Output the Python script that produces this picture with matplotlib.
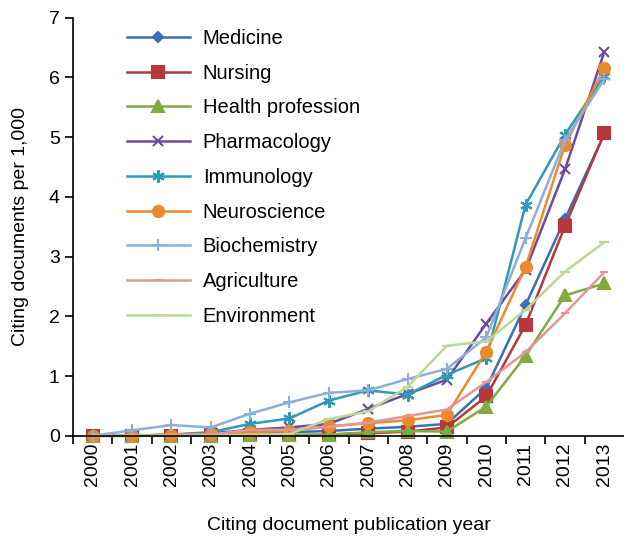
import matplotlib
matplotlib.use("Agg")
from matplotlib import pyplot as plt
from matplotlib.ticker import FixedLocator

plt.rcParams['font.family'] = ['Liberation Sans', 'DejaVu Sans']

years = [str(y) for y in range(2000, 2014)]

medicine = [0, 0, 0.01, 0.02, 0.05, 0.06, 0.08, 0.12, 0.15, 0.20, 0.80, 2.19, 3.63, 5.05]
nursing = [0, 0, 0, 0.01, 0.01, 0.01, 0.02, 0.04, 0.07, 0.14, 0.66, 1.86, 3.51, 5.07]
health = [0, 0, 0, 0, 0.01, 0.01, 0.02, 0.06, 0.08, 0.07, 0.49, 1.34, 2.35, 2.55]
pharmacology = [0, 0, 0.02, 0.04, 0.10, 0.14, 0.20, 0.45, 0.70, 0.94, 1.88, 2.78, 4.46, 6.43]
immunology = [0, 0, 0.02, 0.06, 0.20, 0.29, 0.59, 0.76, 0.69, 1.02, 1.30, 3.87, 5.04, 6.03]
neuroscience = [0, 0, 0.02, 0.03, 0.06, 0.08, 0.16, 0.21, 0.26, 0.35, 1.41, 2.83, 4.87, 6.16]
biochemistry = [0, 0.09, 0.18, 0.14, 0.37, 0.56, 0.72, 0.76, 0.95, 1.12, 1.65, 3.31, 4.95, 5.97]
agriculture = [0, 0, 0.01, 0.02, 0.10, 0.10, 0.15, 0.22, 0.33, 0.44, 0.90, 1.40, 2.05, 2.74]
environment = [0, 0, 0, 0, 0.02, 0.03, 0.28, 0.41, 0.82, 1.51, 1.58, 2.11, 2.75, 3.24]

series = [
    ("Medicine", medicine, '#3b6fb6', 'D', 5),
    ("Nursing", nursing, '#b7373a', 's', 8),
    ("Health profession", health, '#7fab3f', '^', 8),
    ("Pharmacology", pharmacology, '#6c4a9c', 'x', 7),
    ("Immunology", immunology, '#2c9bb3', (6, 2, 0), 9),
    ("Neuroscience", neuroscience, '#ea8a2c', 'o', 8),
    ("Biochemistry", biochemistry, '#8fadd9', '+', 8),
    ("Agriculture", agriculture, '#e09796', '_', 6),
    ("Environment", environment, '#bbd89a', '_', 7),
]

fig = plt.figure(figsize=(6.24, 5.38), dpi=100)
ax = fig.add_axes([0.117, 0.19, 0.883, 0.777])

x = list(range(len(years)))
for name, vals, color, marker, ms in series:
    ax.plot(x, vals, color=color, marker=marker, markersize=ms, lw=1.8,
            markeredgewidth=1.5, label=name, clip_on=False)

ax.set_xlim(-0.5, 13.5)
ax.set_ylim(0, 7)
ax.set_yticks(range(8))
ax.set_xticks(x)
ax.set_xticklabels(years, rotation=90)
ax.xaxis.set_minor_locator(FixedLocator([i - 0.5 for i in range(14)]))
ax.tick_params(axis='x', which='major', length=0, pad=5, labelsize=14)
ax.tick_params(axis='x', which='minor', length=6, width=1.2, direction='out')
ax.tick_params(axis='y', length=6, width=1.2, labelsize=14)
ax.spines['top'].set_visible(False)
ax.spines['right'].set_visible(False)
ax.spines['left'].set_linewidth(1.2)
ax.spines['bottom'].set_linewidth(1.2)

ax.set_ylabel("Citing documents per 1,000", fontsize=14, labelpad=14)
ax.set_xlabel("Citing document publication year", fontsize=14, labelpad=22)

ax.legend(loc='upper left', bbox_to_anchor=(0.08, 0.997), frameon=False,
          fontsize=14.5, handlelength=3.1, handletextpad=0.65, labelspacing=0.78,
          borderaxespad=0.1)

fig.savefig("out.png", dpi=100)
